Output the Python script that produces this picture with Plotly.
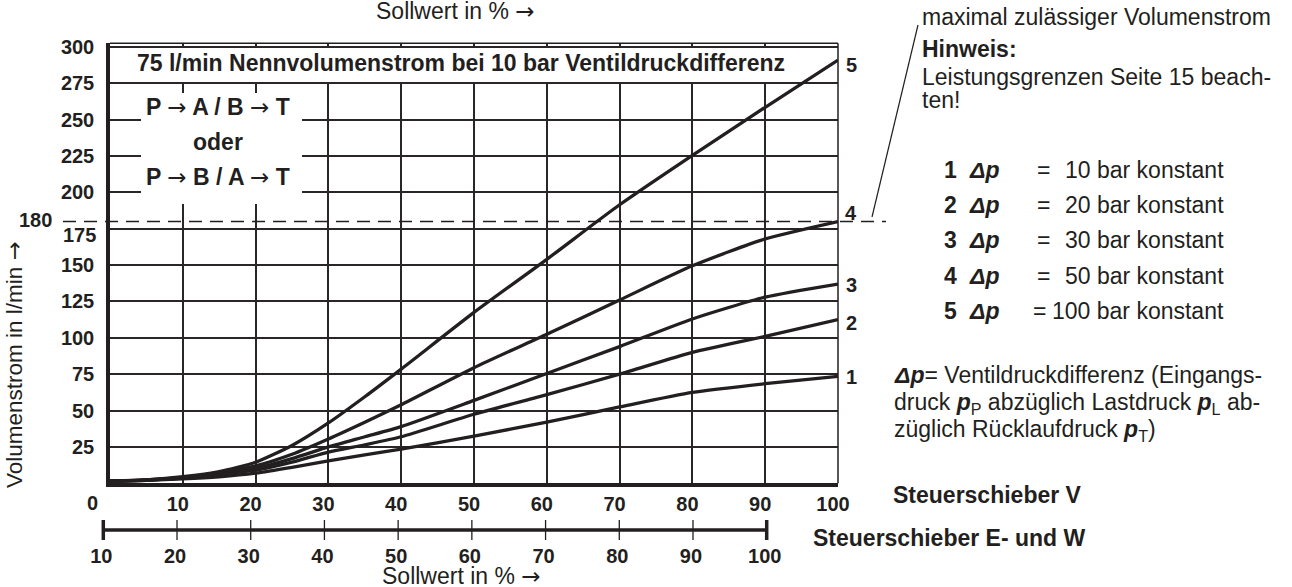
import plotly.graph_objects as go

W, H = 1292, 587
TXT = "#231f20"
BODY = "Liberation Sans, Arial, Helvetica, sans-serif"
NUM = "Liberation Sans Narrow, Arial Narrow, Liberation Sans, sans-serif"
ARROW = '<span style="font-family:DejaVu Sans;font-weight:normal">→</span>'

# ---------------- data ----------------
sollwert = [0, 5, 10, 15, 20, 25, 30, 35, 40, 50, 60, 70, 80, 90, 100]
q_dp10 = [1.5, 2.0, 3.0, 4.5, 7.0, 11.0, 15.5, 19.5, 23.5, 32.5, 42.0, 52.5, 62.5, 68.5, 73.5]
q_dp20 = [1.5, 2.1, 3.5, 6.0, 9.0, 14.5, 21.5, 26.5, 32.0, 47.5, 61.0, 75.0, 90.0, 101.0, 112.5]
q_dp30 = [1.5, 2.2, 3.8, 6.5, 10.3, 17.0, 25.0, 32.0, 39.0, 57.0, 75.5, 94.0, 113.0, 128.0, 137.0]
q_dp50 = [1.5, 2.3, 4.0, 7.5, 12.0, 20.0, 30.5, 42.0, 54.0, 79.5, 102.5, 126.0, 149.5, 168.0, 180.0]
q_dp100 = [1.5, 2.4, 4.5, 8.0, 14.5, 26.0, 41.5, 59.5, 78.5, 117.5, 154.0, 191.5, 225.5, 258.5, 291.0]
curves = [q_dp10, q_dp20, q_dp30, q_dp50, q_dp100]
curve_labels = ["1", "2", "3", "4", "5"]
label_yshift = [-1, -3, -1, 8, -5]

y_ticks = [25, 50, 75, 100, 125, 150, 175, 200, 225, 250, 275, 300]
x_ticks = [10, 20, 30, 40, 50, 60, 70, 80, 90, 100]
x2_ticks = [10, 20, 30, 40, 50, 60, 70, 80, 90, 100]
q_max = 180

legend_dp = ["10", "20", "30", "50", "100"]

# ---------------- geometry helpers (screen px -> paper) ----------------
def px(x):
    return x / W

def py(y):
    return 1 - y / H

X0, X1 = 110, 838
Y_TOP, Y_BOT = 43.3, 483.3
PX_PER_Q = 1.4545

fig = go.Figure()

for q in curves:
    fig.add_trace(go.Scatter(
        x=sollwert, y=q, mode="lines",
        line=dict(color=TXT, width=3.3, shape="spline", smoothing=0.6),
        hoverinfo="skip", showlegend=False))

# secondary scale bar (Steuerschieber E- und W)
fig.add_trace(go.Scatter(x=[x2_ticks[0], x2_ticks[-1]], y=[0, 0], mode="lines",
                         xaxis="x2", yaxis="y2",
                         line=dict(color=TXT, width=3.5), hoverinfo="skip", showlegend=False))
tx, ty = [], []
for v in x2_ticks[1:-1]:
    tx += [v, v, None]
    ty += [-1, 1, None]
fig.add_trace(go.Scatter(x=tx, y=ty, mode="lines", xaxis="x2", yaxis="y2",
                         line=dict(color=TXT, width=1.3), hoverinfo="skip", showlegend=False))
cx, cy = [], []
for v in [x2_ticks[0], x2_ticks[-1]]:
    cx += [v, v, None]
    cy += [-1, 1, None]
fig.add_trace(go.Scatter(x=cx, y=cy, mode="lines", xaxis="x2", yaxis="y2",
                         line=dict(color=TXT, width=3.5), hoverinfo="skip", showlegend=False))

# x2 mapping: s=10 -> px 103.3, s=100 -> px 766.7
s_per_px = 90 / (766.7 - 103.3)
X2_LEFT = 95
x2_range = [10 + (X2_LEFT - 103.3) * s_per_px, 10 + (X1 - 103.3) * s_per_px]

grid_col = "#2a2627"
tick_font = dict(family=NUM, size=20, color=TXT, weight="bold")
fig.update_layout(
    width=W, height=H,
    margin=dict(l=0, r=0, t=0, b=0),
    paper_bgcolor="white", plot_bgcolor="white",
    showlegend=False,
    xaxis=dict(domain=[px(X0), px(X1)], range=[0, 100], automargin=False,
               tickvals=x_ticks, ticktext=[str(v) for v in x_ticks],
               showgrid=True, gridcolor=grid_col, gridwidth=1.5,
               zeroline=False, showline=True, linecolor=TXT, linewidth=4,
               ticks="", ticklabelstandoff=0, ticklabelshift=-5,
               tickfont=tick_font),
    yaxis=dict(domain=[py(Y_BOT), py(Y_TOP)], range=[0, (Y_BOT - Y_TOP) / PX_PER_Q],
               automargin=False,
               tickvals=y_ticks, ticktext=["" if v == 175 else str(v) for v in y_ticks],
               showgrid=True, gridcolor=grid_col, gridwidth=1.5,
               zeroline=False, showline=True, linecolor=TXT, linewidth=3.5,
               ticks="", ticklabelstandoff=8,
               tickfont=tick_font),
    xaxis2=dict(domain=[px(X2_LEFT), px(X1)], range=x2_range, anchor="y2", automargin=False,
                tickvals=x2_ticks, showgrid=False, zeroline=False, showline=False,
                ticks="", ticklabelstandoff=0, ticklabelshift=-2,
                tickfont=tick_font),
    yaxis2=dict(domain=[py(542), py(518)], range=[-1.2, 1.2], anchor="x2",
                visible=False, automargin=False),
)

shapes = []
# white boxes behind the texts
shapes.append(dict(type="rect", xref="paper", yref="paper", x0=px(141), x1=px(782),
                   y0=py(82), y1=py(48), fillcolor="white", line=dict(width=0), layer="above"))
shapes.append(dict(type="rect", xref="paper", yref="paper", x0=px(141), x1=px(302),
                   y0=py(204), y1=py(93), fillcolor="white", line=dict(width=0), layer="above"))
# thin top and right border of the plot
shapes.append(dict(type="line", xref="paper", yref="paper", x0=px(X0), x1=px(X1),
                   y0=py(Y_TOP), y1=py(Y_TOP), line=dict(color=TXT, width=1.5), layer="above"))
shapes.append(dict(type="line", xref="paper", yref="paper", x0=px(X1), x1=px(X1),
                   y0=py(Y_TOP), y1=py(Y_BOT), line=dict(color=TXT, width=1.5), layer="above"))
# maximal zulaessiger Volumenstrom (dashed)
shapes.append(dict(type="line", xref="paper", yref="paper", x0=px(63), x1=px(886),
                   y0=py(Y_BOT - q_max * PX_PER_Q), y1=py(Y_BOT - q_max * PX_PER_Q),
                   line=dict(color=TXT, width=1.6, dash="13px,8px"), layer="above"))
# leader line
shapes.append(dict(type="line", xref="paper", yref="paper", x0=px(872), y0=py(217), x1=px(918), y1=py(25),
                   line=dict(color=TXT, width=1.2), layer="above"))
fig.update_layout(shapes=shapes)

ann = []

def add(text, x, y, size=23, family=BODY, xanchor="left", yanchor="middle", **kw):
    d = dict(text=text, x=px(x), y=py(y), xref="paper", yref="paper", showarrow=False,
             xanchor=xanchor, yanchor=yanchor, borderpad=0,
             font=dict(family=family, size=size, color=TXT))
    d.update(kw)
    ann.append(d)

# axis titles
add("Sollwert in % " + ARROW, 455, 11, xanchor="center")
add("Sollwert in % " + ARROW, 461, 576, xanchor="center")
add("Volumenstrom in l/min " + ARROW, 14, 365, size=22.5, xanchor="center", textangle=-90)

# chart texts
add("<b>75 l/min Nennvolumenstrom bei 10 bar Ventildruckdifferenz</b>", 461, 63, xanchor="center")
add("<b>P " + ARROW + " A / B " + ARROW + " T</b>", 218, 107, xanchor="center")
add("<b>oder</b>", 218, 142, xanchor="center")
add("<b>P " + ARROW + " B / A " + ARROW + " T</b>", 218, 177, xanchor="center")

# special labels on the axes
add("<b>180</b>", 53, 220, size=20, family=NUM, xanchor="right")
add("<b>175</b>", 97, 235, size=20, family=NUM, xanchor="right")
add("<b>0</b>", 92, 503, size=20, family=NUM, xanchor="center")

# curve end labels
for q, lab, ys in zip(curves, curve_labels, label_yshift):
    ann.append(dict(text="<b>" + lab + "</b>", x=100, y=q[-1], xref="x", yref="y",
                    xshift=13, yshift=ys, showarrow=False, xanchor="center", yanchor="middle",
                    font=dict(family=NUM, size=20, color=TXT)))

# right-hand notes
add("maximal zulässiger Volumenstrom", 921, 17)
add("<b>Hinweis:</b>", 921, 49)
add("Leistungsgrenzen Seite 15 beach-", 921, 77)
add("ten!", 921, 100)

rows_y = [170, 205, 240, 276, 311]
for lab, dp, yy in zip(curve_labels, legend_dp, rows_y):
    add("<b>" + lab + "</b>", 951, yy, xanchor="center")
    add("<b><i>Δp</i></b>", 968, yy)
    add("=", 1039 if dp == "100" else 1043, yy, xanchor="center")
    add(dp + " bar konstant", 1225, yy, xanchor="right")

add("<b><i>Δp</i></b>= Ventildruckdifferenz (Eingangs-", 893, 375)
add("druck <b><i>p</i></b><sub>P</sub> abzüglich Lastdruck <b><i>p</i></b><sub>L</sub> ab-", 893, 403)
add("züglich Rücklaufdruck <b><i>p</i></b><sub>T</sub>)", 893, 430)

add("<b>Steuerschieber V</b>", 892, 495)
add("<b>Steuerschieber E- und W</b>", 812, 538)

fig.update_layout(annotations=ann)
fig.write_html("out.html", config={"displayModeBar": False},
               post_script="document.body.style.margin='0';document.body.style.overflow='hidden';")
